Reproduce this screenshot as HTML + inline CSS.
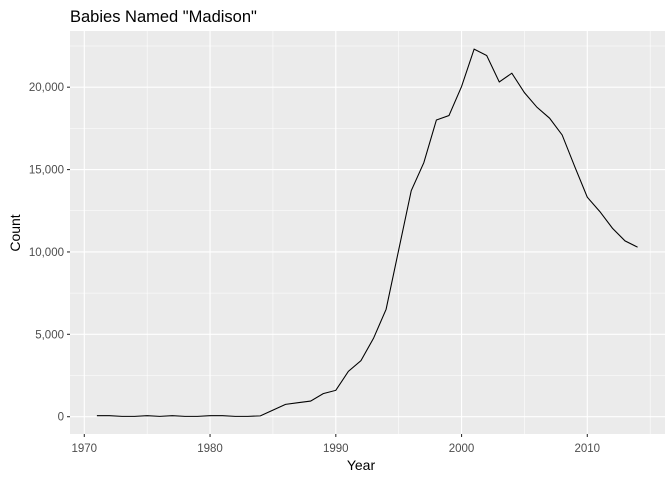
<!DOCTYPE html>
<html><head><meta charset="utf-8"><style>
body{margin:0;background:#fff;font-family:"Liberation Sans",Arial,sans-serif}
</style></head><body>
<svg width="672" height="480" xmlns="http://www.w3.org/2000/svg">
<text x="70" y="22" font-size="16.5" fill="#000">Babies Named "Madison"</text>
<rect x="70" y="31" width="595" height="403" fill="#ebebeb"/>
<g id="grid"></g>
<g id="axes"></g>
<path id="line" fill="none" stroke="#000" stroke-width="1.07"/>
<text x="361" y="470" font-size="14" text-anchor="middle" fill="#000">Year</text>
<text transform="translate(20,233) rotate(-90)" font-size="14" text-anchor="middle" fill="#000">Count</text>
</svg>
<script>
const years=[1971,1972,1973,1974,1975,1976,1977,1978,1979,1980,1981,1982,1983,1984,1985,1986,1987,1988,1989,1990,1991,1992,1993,1994,1995,1996,1997,1998,1999,2000,2001,2002,2003,2004,2005,2006,2007,2008,2009,2010,2011,2012,2013,2014];
const counts=[60,60,20,20,60,20,60,20,20,60,60,20,20,50,400,750,850,950,1400,1600,2750,3400,4760,6520,10120,13720,15420,18010,18280,20040,22310,21920,20320,20850,19670,18780,18120,17100,15180,13320,12450,11440,10670,10290];
const xTicks=[1970,1980,1990,2000,2010];
const yTicks=[0,5000,10000,15000,20000];
const yTickLabels=["0","5,000","10,000","15,000","20,000"];
const NS="http://www.w3.org/2000/svg";
const X=v=>84.3+(v-1970)*12.575;
const Y=v=>416.7-v*0.016475;
const grid=document.getElementById('grid'),axes=document.getElementById('axes');
function mk(tag,attrs,parent){const e=document.createElementNS(NS,tag);for(const k in attrs)e.setAttribute(k,attrs[k]);parent.appendChild(e);return e;}
for(let i=0;i<xTicks.length;i++){
  const mn=xTicks[i]+5;
  if(X(mn)<665){const l=mk('line',{x1:X(mn),x2:X(mn),y1:31,y2:434,stroke:'#fff','stroke-width':0.55},grid);
  
  }
}
for(let i=0;i<yTicks.length;i++){
  const mn=yTicks[i]+2500;
  if(Y(mn)>31){const l=mk('line',{x1:70,x2:665,y1:Y(mn),y2:Y(mn),stroke:'#fff','stroke-width':0.55},grid);
  
  }
}
const l0=mk('line',{x1:70,x2:665,y1:Y(-2500),y2:Y(-2500),stroke:'#fff','stroke-width':0.55},grid);


xTicks.forEach(t=>{
  const g=mk('line',{x1:X(t),x2:X(t),y1:31,y2:434,stroke:'#fff','stroke-width':1.1},grid);
  
  
  const tk=mk('line',{x1:X(t),x2:X(t),y1:434,y2:437,stroke:'#333','stroke-width':1.1},axes);
  
  
  const tx=mk('text',{x:X(t),y:452,'font-size':11.5,'text-anchor':'middle',fill:'#4d4d4d'},axes);
  tx.textContent=t;
  
  
});
yTicks.forEach((t,i)=>{
  const g=mk('line',{x1:70,x2:665,y1:Y(t),y2:Y(t),stroke:'#fff','stroke-width':1.1},grid);
  
  
  const tk=mk('line',{x1:67,x2:70,y1:Y(t),y2:Y(t),stroke:'#333','stroke-width':1.1},axes);
  
  
  const tx=mk('text',{x:64,y:Y(t)+4,'font-size':11.5,'text-anchor':'end',fill:'#4d4d4d'},axes);
  tx.textContent=yTickLabels[i];
  
  
});
document.getElementById('line').setAttribute('d',years.map((y,i)=>(i?'L':'M')+X(y).toFixed(2)+','+Y(counts[i]).toFixed(2)).join(''));
</script>
</body></html>
